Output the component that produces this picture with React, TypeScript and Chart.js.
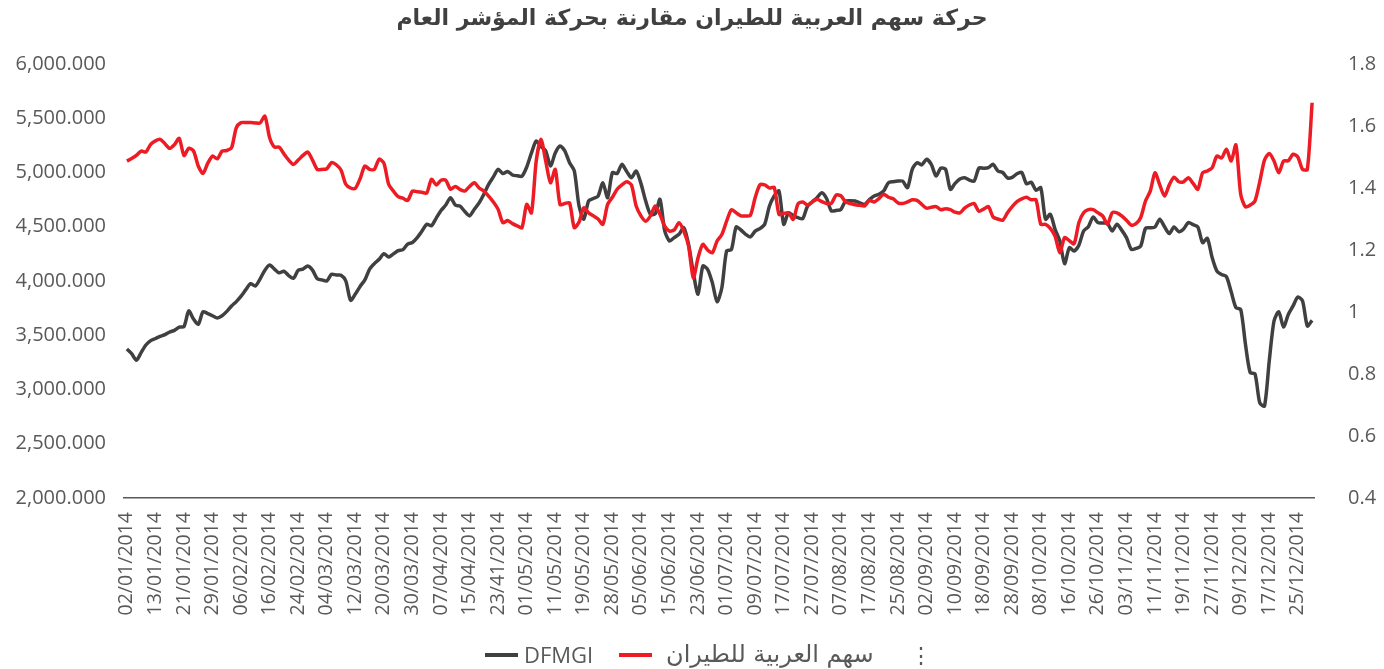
import React, { useEffect, useRef } from "react";
import { Chart, registerables } from "chart.js";

Chart.register(...registerables);

const titleText = "حركة سهم العربية للطيران مقارنة بحركة المؤشر العام";
const seriesIndexName = "DFMGI";
const seriesStockName = "سهم العربية للطيران";

const tickLabels = [
  "02/01/2014", "13/01/2014", "21/01/2014", "29/01/2014", "06/02/2014", "16/02/2014",
  "24/02/2014", "04/03/2014", "12/03/2014", "20/03/2014", "30/03/2014", "07/04/2014",
  "15/04/2014", "23/41/2014", "01/05/2014", "11/05/2014", "19/05/2014", "28/05/2014",
  "05/06/2014", "15/06/2014", "23/06/2014", "01/07/2014", "09/07/2014", "17/07/2014",
  "27/07/2014", "07/08/2014", "17/08/2014", "25/08/2014", "02/09/2014", "10/09/2014",
  "18/09/2014", "28/09/2014", "08/10/2014", "16/10/2014", "26/10/2014", "03/11/2014",
  "11/11/2014", "19/11/2014", "27/11/2014", "09/12/2014", "17/12/2014", "25/12/2014",
];
const pointsPerTick = 6;

const dfmgiValues = [
  3373, 3330, 3270, 3340, 3410, 3450, 3470, 3490, 3505, 3530,
  3545, 3575, 3580, 3724, 3650, 3601, 3717, 3700, 3680, 3660,
  3680, 3720, 3770, 3810, 3860, 3920, 3975, 3954, 4020, 4100,
  4147, 4110, 4075, 4090, 4050, 4025, 4100, 4110, 4138, 4100,
  4020, 4010, 4000, 4062, 4055, 4053, 4000, 3822, 3880, 3950,
  4010, 4110, 4160, 4200, 4252, 4221, 4250, 4280, 4289, 4340,
  4355, 4400, 4460, 4523, 4510, 4580, 4650, 4700, 4768, 4700,
  4690, 4640, 4600, 4661, 4720, 4800, 4891, 4960, 5029, 4990,
  5010, 4977, 4970, 4965, 5050, 5180, 5290, 5240, 5198, 5060,
  5180, 5244, 5200, 5090, 5014, 4691, 4569, 4737, 4760, 4783,
  4906, 4768, 4998, 4990, 5075, 5010, 4952, 5014, 4900, 4737,
  4615, 4620, 4753, 4461, 4369, 4400, 4431, 4492, 4339, 4077,
  3878, 4138, 4108, 3984, 3809, 3938, 4277, 4290, 4498, 4470,
  4430, 4406, 4460, 4483, 4523, 4691, 4783, 4830, 4523, 4630,
  4600, 4584, 4575, 4691, 4730, 4768, 4814, 4760, 4646, 4650,
  4660, 4737, 4740, 4737, 4720, 4707, 4750, 4783, 4800, 4830,
  4906, 4915, 4921, 4920, 4860, 5029, 5090, 5070, 5121, 5075,
  4968, 5040, 5030, 4845, 4900, 4940, 4952, 4930, 4921, 5040,
  5040, 5045, 5075, 5014, 5000, 4950, 4955, 4989, 5000, 4897,
  4910, 4836, 4860, 4569, 4615, 4477, 4369, 4160, 4307, 4277,
  4330, 4461, 4500, 4590, 4538, 4535, 4530, 4461, 4523, 4469,
  4400, 4292, 4300, 4323, 4485, 4490, 4498, 4569, 4500, 4437,
  4498, 4454, 4480, 4538, 4520, 4498, 4354, 4392, 4216, 4092,
  4060, 4040, 3900, 3754, 3738, 3417, 3155, 3146, 2878, 2848,
  3263, 3631, 3717, 3576, 3692, 3770, 3853, 3816, 3585, 3638,
];

const stockValues = [
  1.487, 1.495, 1.505, 1.519, 1.516, 1.541, 1.552, 1.557, 1.543, 1.528,
  1.540, 1.560, 1.505, 1.528, 1.520, 1.471, 1.447, 1.480, 1.503, 1.494,
  1.519, 1.521, 1.530, 1.595, 1.611, 1.611, 1.611, 1.610, 1.610, 1.632,
  1.562, 1.532, 1.532, 1.510, 1.490, 1.476, 1.490, 1.505, 1.516, 1.490,
  1.460, 1.460, 1.462, 1.482, 1.475, 1.457, 1.412, 1.400, 1.399, 1.430,
  1.471, 1.460, 1.460, 1.493, 1.480, 1.412, 1.390, 1.372, 1.367, 1.360,
  1.390, 1.388, 1.386, 1.384, 1.428, 1.410, 1.425, 1.425, 1.396, 1.405,
  1.395, 1.390, 1.405, 1.417, 1.400, 1.390, 1.374, 1.355, 1.331, 1.288,
  1.295, 1.285, 1.278, 1.272, 1.347, 1.320, 1.487, 1.557, 1.487, 1.417,
  1.460, 1.347, 1.350, 1.352, 1.272, 1.290, 1.336, 1.320, 1.310, 1.300,
  1.283, 1.347, 1.370, 1.396, 1.410, 1.420, 1.410, 1.342, 1.310, 1.293,
  1.310, 1.342, 1.315, 1.277, 1.261, 1.265, 1.288, 1.261, 1.213, 1.110,
  1.175, 1.218, 1.200, 1.191, 1.229, 1.250, 1.293, 1.330, 1.320, 1.310,
  1.310, 1.312, 1.369, 1.410, 1.410, 1.400, 1.402, 1.315, 1.318, 1.320,
  1.299, 1.349, 1.355, 1.345, 1.355, 1.364, 1.356, 1.350, 1.350, 1.377,
  1.375, 1.355, 1.350, 1.346, 1.344, 1.342, 1.360, 1.355, 1.366, 1.380,
  1.370, 1.365, 1.352, 1.350, 1.355, 1.362, 1.360, 1.347, 1.335, 1.338,
  1.340, 1.330, 1.333, 1.330, 1.322, 1.320, 1.335, 1.345, 1.350, 1.325,
  1.332, 1.340, 1.306, 1.300, 1.296, 1.320, 1.340, 1.356, 1.365, 1.370,
  1.362, 1.362, 1.283, 1.283, 1.270, 1.245, 1.191, 1.240, 1.230, 1.220,
  1.288, 1.320, 1.330, 1.330, 1.320, 1.310, 1.283, 1.320, 1.320, 1.310,
  1.296, 1.280, 1.285, 1.305, 1.358, 1.390, 1.449, 1.410, 1.374, 1.410,
  1.435, 1.420, 1.420, 1.433, 1.415, 1.396, 1.449, 1.455, 1.465, 1.503,
  1.497, 1.525, 1.487, 1.539, 1.380, 1.339, 1.345, 1.358, 1.420, 1.490,
  1.511, 1.487, 1.449, 1.487, 1.488, 1.509, 1.500, 1.460, 1.460, 1.675,
];

const leftMin = 2000, leftMax = 6000, leftStep = 500;
const rightMin = 0.4, rightMax = 1.8, rightStep = 0.2;

const GRAY_LINE = "#404040";
const RED_LINE = "#ED1C24";
const TEXT = "#595959";
const TICK_FONT = "'Open Sans', sans-serif";

export default function App() {
  const canvasRef = useRef<HTMLCanvasElement | null>(null);

  useEffect(() => {
    const canvas = canvasRef.current;
    if (!canvas) return;
    const chart = new Chart(canvas, {
      type: "line",
      data: {
        datasets: [
          {
            label: seriesStockName,
            data: stockValues.map((v, i) => ({ x: i, y: v })),
            borderColor: RED_LINE,
            backgroundColor: RED_LINE,
            borderWidth: 3.5,
            pointRadius: 0,
            tension: 0.25,
            yAxisID: "y1",
          },
          {
            label: seriesIndexName,
            data: dfmgiValues.map((v, i) => ({ x: i, y: v })),
            borderColor: GRAY_LINE,
            backgroundColor: GRAY_LINE,
            borderWidth: 3.5,
            pointRadius: 0,
            tension: 0.25,
            yAxisID: "y",
          },
        ],
      },
      options: {
        animation: false,
        responsive: false,
        maintainAspectRatio: false,
        layout: { padding: { top: 64, left: 0, right: 0, bottom: 0 } },
        plugins: {
          legend: { display: false },
          title: { display: false },
          tooltip: { enabled: false },
        },
        scales: {
          x: {
            type: "linear",
            min: -0.6,
            max: dfmgiValues.length - 0.6,
            grid: { display: false, drawTicks: false },
            border: { display: true, color: "#595959", width: 1.5 },
            afterBuildTicks: (s: any) => {
              s.ticks = tickLabels.map((_, k) => ({ value: k * pointsPerTick }));
            },
            afterFit: (s: any) => {
              s.height = 171;
            },
            ticks: {
              autoSkip: false,
              maxRotation: 90,
              minRotation: 90,
              padding: 14,
              color: TEXT,
              font: { family: TICK_FONT, size: 19.5 },
              callback: (v: any) => tickLabels[Math.round(Number(v) / pointsPerTick)] ?? "",
            },
          },
          y: {
            type: "linear",
            position: "left",
            min: leftMin,
            max: leftMax,
            grid: { display: false, drawTicks: false },
            border: { display: false },
            afterFit: (s: any) => {
              s.width = 124;
            },
            ticks: {
              stepSize: leftStep,
              padding: 18,
              color: TEXT,
              font: { family: TICK_FONT, size: 20 },
              callback: (v: any) =>
                Number(v).toLocaleString("en-US", {
                  minimumFractionDigits: 3,
                  maximumFractionDigits: 3,
                }),
            },
          },
          y1: {
            type: "linear",
            position: "right",
            min: rightMin,
            max: rightMax,
            grid: { display: false, drawTicks: false },
            border: { display: false },
            afterFit: (s: any) => {
              s.width = 70;
            },
            ticks: {
              stepSize: rightStep,
              padding: 34,
              color: TEXT,
              font: { family: TICK_FONT, size: 20 },
              callback: (v: any) => String(parseFloat(Number(v).toFixed(1))),
            },
          },
        },
      },
    });
    return () => chart.destroy();
  }, []);

  return (
    <div style={{ position: "fixed", left: 0, top: 0, width: 1384, height: 669, background: "#fff" }}>
      <canvas ref={canvasRef} width={1384} height={669} style={{ position: "absolute", left: 0, top: 0 }} />
      <div
        dir="rtl"
        style={{
          position: "absolute",
          top: 5,
          left: 0,
          width: 1384,
          textAlign: "center",
          fontFamily: "'DejaVu Sans', sans-serif",
          fontWeight: "bold",
          fontSize: 22,
          color: "#404040",
        }}
      >
        {titleText}
      </div>
      <div style={{ position: "absolute", top: 640, left: 0, width: 1384, height: 29, fontFamily: TICK_FONT, fontSize: 22, color: TEXT }}>
        <div style={{ position: "absolute", left: 485, top: 13, width: 33, height: 3.5, background: GRAY_LINE }} />
        <div style={{ position: "absolute", left: 524, top: 0, lineHeight: "28px" }}>{seriesIndexName}</div>
        <div style={{ position: "absolute", left: 619, top: 13, width: 33, height: 3.5, background: RED_LINE }} />
        <div dir="rtl" style={{ position: "absolute", left: 666, top: 0, width: 216, lineHeight: "28px", fontFamily: "'DejaVu Sans', sans-serif", fontSize: 24, textAlign: "left" }}>
          {seriesStockName}
        </div>
        <div style={{ position: "absolute", left: 910, top: 0, lineHeight: "28px" }}>⋮</div>
      </div>
    </div>
  );
}
